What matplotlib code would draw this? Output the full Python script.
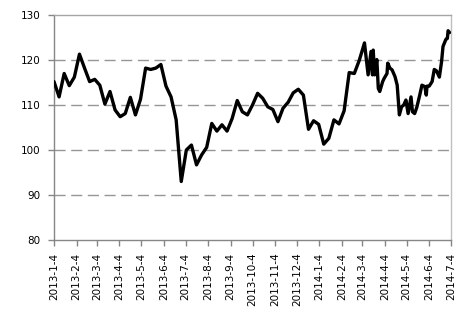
import pandas as pd
import matplotlib
matplotlib.use("Agg")
import matplotlib.pyplot as plt

# ── Data ──────────────────────────────────────────────────────────────────────

dates = [
    "2013-01-04", "2013-01-11", "2013-01-18", "2013-01-25", "2013-02-01",
    "2013-02-08", "2013-02-15", "2013-02-22", "2013-03-01", "2013-03-08",
    "2013-03-15", "2013-03-22", "2013-03-29", "2013-04-05", "2013-04-12",
    "2013-04-19", "2013-04-26", "2013-05-03", "2013-05-10", "2013-05-17",
    "2013-05-24", "2013-05-31", "2013-06-07", "2013-06-14", "2013-06-21",
    "2013-06-28", "2013-07-05", "2013-07-12", "2013-07-19", "2013-07-26",
    "2013-08-02", "2013-08-09", "2013-08-16", "2013-08-23", "2013-08-30",
    "2013-09-06", "2013-09-13", "2013-09-20", "2013-09-27", "2013-10-04",
    "2013-10-11", "2013-10-18", "2013-10-25", "2013-11-01", "2013-11-08",
    "2013-11-15", "2013-11-22", "2013-11-29", "2013-12-06", "2013-12-13",
    "2013-12-20", "2013-12-27", "2014-01-03", "2014-01-10", "2014-01-17",
    "2014-01-24", "2014-01-31", "2014-02-07", "2014-02-14", "2014-02-21",
    "2014-02-28", "2014-03-07", "2014-03-12", "2014-03-16", "2014-03-18",
    "2014-03-19", "2014-03-21", "2014-03-24", "2014-03-26", "2014-03-28",
    "2014-04-01", "2014-04-03", "2014-04-07", "2014-04-08", "2014-04-11",
    "2014-04-14", "2014-04-18", "2014-04-21", "2014-04-24", "2014-04-27",
    "2014-04-30", "2014-05-03", "2014-05-06", "2014-05-10", "2014-05-12",
    "2014-05-15", "2014-05-18", "2014-05-22", "2014-05-25", "2014-05-29",
    "2014-05-31", "2014-06-01", "2014-06-04", "2014-06-08", "2014-06-11",
    "2014-06-14", "2014-06-18", "2014-06-21", "2014-06-23", "2014-06-27",
    "2014-06-29", "2014-06-30", "2014-07-02",
]

values = [
    115.2, 111.8, 117.0, 114.3, 116.2,
    121.3, 118.2, 115.2, 115.7, 114.4,
    110.2, 113.0, 108.9, 107.4, 108.1,
    111.7, 107.8, 111.3, 118.2, 117.9,
    118.2, 119.0, 114.2, 111.8, 106.7,
    93.0, 100.0, 101.1, 96.7, 98.9,
    100.6, 105.9, 104.2, 105.6, 104.2,
    107.0, 111.0, 108.5, 107.8, 110.0,
    112.6, 111.5, 109.6, 109.0, 106.3,
    109.3, 110.6, 112.7, 113.5, 112.2,
    104.6, 106.5, 105.7, 101.3, 102.6,
    106.7, 105.8, 108.7, 117.2, 117.0,
    120.0, 123.8, 116.7, 121.9, 116.7,
    122.2, 116.7, 120.1, 113.7, 113.0,
    115.2, 115.9, 117.0, 119.3, 118.2,
    117.8, 116.3, 114.4, 107.8, 109.6,
    110.0, 111.1, 108.1, 111.8, 108.5,
    108.1, 109.5, 112.2, 114.4, 114.1,
    112.2, 114.2, 114.2, 115.2, 117.9,
    117.6, 116.2, 119.6, 123.0, 124.6,
    124.8, 126.5, 126.1,
]

tick_dates = pd.date_range("2013-01-04", "2014-07-04", freq=pd.DateOffset(months=1))
tick_labels = [f"{d.year}-{d.month}-{d.day}" for d in tick_dates]
y_ticks = [80, 90, 100, 110, 120, 130]

# ── Plot ──────────────────────────────────────────────────────────────────────

axis_grey = "#868686"
grid_grey = "#969696"

fig = plt.figure(figsize=(4.74, 3.20), dpi=100)
ax = fig.add_axes([54 / 474, 1 - 240 / 320, (451 - 54) / 474, (240 - 15) / 320])

ax.plot(pd.to_datetime(dates), values, color="black", lw=2.4,
        solid_joinstyle="round", solid_capstyle="round", zorder=3)

ax.set_xlim(pd.Timestamp("2013-01-04"), pd.Timestamp("2014-07-04"))
ax.set_ylim(80, 130)

ax.set_xticks(tick_dates)
ax.set_xticklabels(tick_labels, rotation=90, fontsize=7.5)
ax.set_yticks(y_ticks)
ax.set_yticklabels([str(v) for v in y_ticks], fontsize=7.5)

ax.tick_params(axis="both", direction="out", length=4, width=1,
               color=axis_grey, labelcolor="black")
ax.tick_params(axis="x", pad=5)
ax.tick_params(axis="y", pad=6)

for v in [90, 100, 110, 120]:
    ax.axhline(v, color=grid_grey, lw=1, dashes=(8, 4), zorder=1)

ax.spines["left"].set_color(axis_grey)
ax.spines["bottom"].set_color(axis_grey)
ax.spines["top"].set_color("#a6a6a6")
ax.spines["right"].set_color("#bfbfbf")
for s in ax.spines.values():
    s.set_linewidth(1)

fig.savefig("out.png", dpi=100)
